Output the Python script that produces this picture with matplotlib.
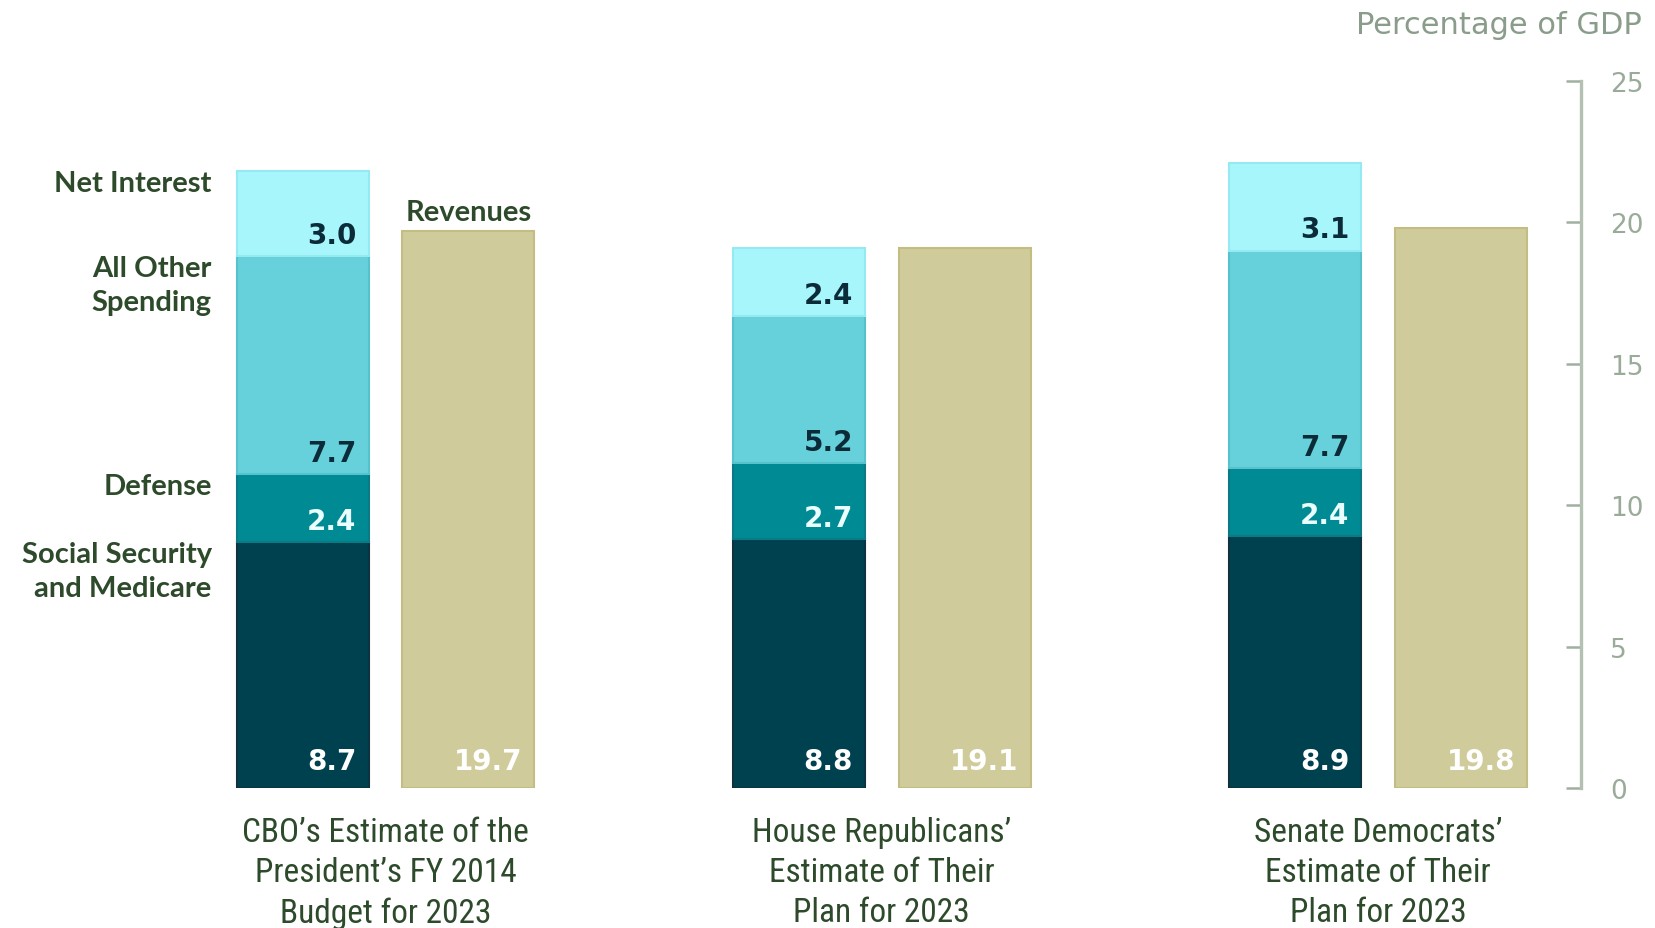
import matplotlib
matplotlib.use("Agg")
import matplotlib.pyplot as plt
from matplotlib import font_manager
import numpy as np

# Federal outlays and revenues in 2023, percentage of GDP
categories = [
    "CBO\u2019s Estimate of the\nPresident\u2019s FY 2014\nBudget for 2023",
    "House Republicans\u2019\nEstimate of Their\nPlan for 2023",
    "Senate Democrats\u2019\nEstimate of Their\nPlan for 2023",
]
component_names = ["Social Security\nand Medicare", "Defense", "All Other\nSpending", "Net Interest"]
social_security_medicare = [8.7, 8.8, 8.9]
defense = [2.4, 2.7, 2.4]
all_other_spending = [7.7, 5.2, 7.7]
net_interest = [3.0, 2.4, 3.1]
revenues = [19.7, 19.1, 19.8]
y_ticks = [0, 5, 10, 15, 20, 25]

seg_colors = ["#00414f", "#008a94", "#66d1db", "#a7f6fc"]
seg_edges = ["#0d3340", "#0a7a84", "#55c2cc", "#95eaf2"]
seg_text = ["#ffffff", "#eaffff", "#0b2b38", "#0b2b38"]
rev_color = "#cfcb9a"
rev_edge = "#c3bd84"
label_green = "#2d4a2b"
axis_gray = "#b3c1b3"
tick_text = "#9aab9a"


def narrow_font():
    """Pick a condensed regular face if one is installed."""
    preferred = ["Roboto Condensed", "Liberation Sans Narrow", "Open Sans Condensed",
                 "Noto Sans Condensed", "DejaVu Sans Condensed"]
    entries = font_manager.fontManager.ttflist
    for name in preferred:
        for f in entries:
            if f.name == name and f.style == "normal" and f.weight in (400, "normal", "regular"):
                return font_manager.FontProperties(fname=f.fname)
    for f in entries:
        if f.style == "normal" and f.stretch in ("condensed", "semi-condensed", "extra-condensed") \
                and f.weight in (400, "normal", "regular"):
            return font_manager.FontProperties(fname=f.fname)
    for f in entries:
        low = f.fname.lower()
        if ("condensed" in low or "narrow" in low) and "bold" not in low and "italic" not in low \
                and "oblique" not in low:
            return font_manager.FontProperties(fname=f.fname)
    return font_manager.FontProperties(family="DejaVu Sans")


W, H = 1656, 929
fig = plt.figure(figsize=(W / 100, H / 100), dpi=100)

# axes: y=0 at pixel row 789, y=25 at row 82; right spine at column 1581
ax_bottom = (H - 789) / H
ax_top = (H - 82) / H
ax_right = 1581 / W
ax = fig.add_axes([0, ax_bottom, ax_right, ax_top - ax_bottom])

group_px = 496.3
x0_px = 385.4
ax.set_xlim(-x0_px / group_px, (1581 - x0_px) / group_px)
ax.set_ylim(0, 25)

x = np.arange(len(categories))
bar_w = 0.266
offset = 0.167
spend_x = x - offset
rev_x = x + offset

segments = [social_security_medicare, defense, all_other_spending, net_interest]
bottom = np.zeros(len(categories))
bottoms = []
for vals, fc, ec in zip(segments, seg_colors, seg_edges):
    vals = np.array(vals)
    ax.bar(spend_x, vals, bar_w, bottom=bottom, color=fc, edgecolor=ec,
           linewidth=1.5, zorder=2)
    bottoms.append(bottom.copy())
    bottom = bottom + vals

ax.bar(rev_x, revenues, bar_w, color=rev_color, edgecolor=rev_edge,
       linewidth=1.5, zorder=2)

# value labels, right-aligned inside each segment near its base
pad = 0.024
for i, (vals, bts, tc) in enumerate(zip(segments, bottoms, seg_text)):
    lift = 0.95 if i == 0 else 0.75
    for xi, v, b in zip(spend_x, vals, bts):
        ax.text(xi + bar_w / 2 - pad, b + lift, f"{v:.1f}", ha="right", va="center",
                fontsize=20, fontweight="bold", color=tc, zorder=3)
for xi, v in zip(rev_x, revenues):
    ax.text(xi + bar_w / 2 - pad, 0.95, f"{v:.1f}", ha="right", va="center",
            fontsize=20, fontweight="bold", color="#ffffff", zorder=3)

# component names beside the first stacked bar, aligned to each segment's top
name_x = spend_x[0] - bar_w / 2 - 0.05
for name, vals, bts in zip(component_names, segments, bottoms):
    top = bts[0] + vals[0]
    ax.text(name_x, top + 0.05, name, ha="right", va="top", fontsize=21,
            fontweight="bold", color=label_green, linespacing=1.4,
            family=["Lato", "DejaVu Sans"])

ax.text(rev_x[0], revenues[0] + 0.2, "Revenues", ha="center", va="bottom",
        fontsize=21, fontweight="bold", color=label_green,
        family=["Lato", "DejaVu Sans"])

# category labels under each pair of bars
cat_font = narrow_font()
cat_font.set_size(24)
for xi, cat in zip(x, categories):
    ax.text(xi, -1.0, cat, ha="center", va="top", fontproperties=cat_font,
            color=label_green, linespacing=1.32, clip_on=False)

# right-hand axis
for side in ["top", "left", "bottom"]:
    ax.spines[side].set_visible(False)
ax.spines["right"].set_color(axis_gray)
ax.spines["right"].set_linewidth(2.4)
ax.yaxis.tick_right()
ax.set_yticks(y_ticks)
ax.tick_params(axis="y", direction="in", length=10.5, width=1.8, color="#9fb09f",
               pad=21, labelsize=19, labelcolor=tick_text)
ax.set_xticks([])

fig.text(1642 / W, 1 - 26 / H, "Percentage of GDP", ha="right", va="center",
         fontsize=22, color="#8a9c8a")

fig.savefig("out.png", dpi=100)
